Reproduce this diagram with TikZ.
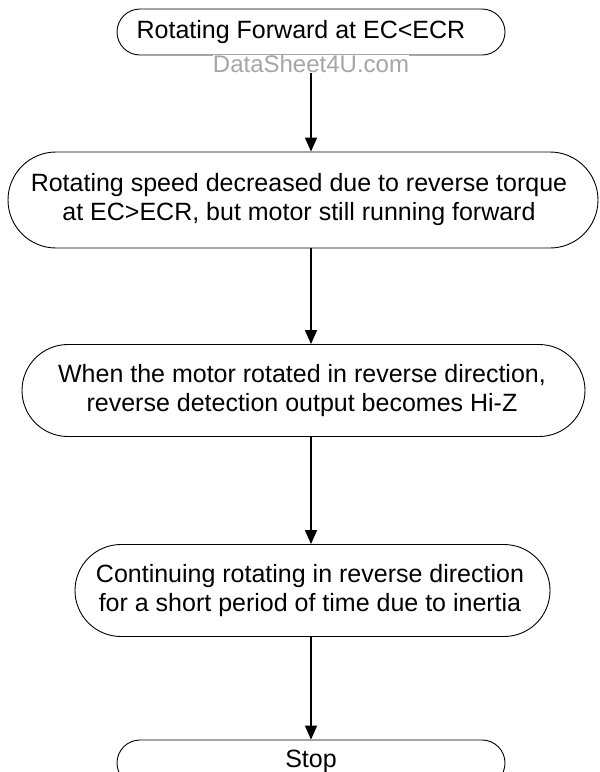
\documentclass[tikz,border=0pt]{standalone}
\usepackage{fontspec}
\setmainfont{Liberation Sans}
\usetikzlibrary{shapes.misc,arrows.meta}
\begin{document}
\begin{tikzpicture}[x=1pt,y=-1pt,
  flowbox/.style={draw=black,line width=0.9pt,rounded rectangle,rounded rectangle arc length=180,
    inner sep=0pt},
  flowtext/.style={inner sep=0pt,align=center,font=\fontsize{25}{29}\selectfont},
  flowarrow/.style={line width=1.6pt,-{Triangle[length=14pt,width=12pt]}}]
\useasboundingbox[fill=white] (0,0) rectangle (600,772);
\node[flowbox,minimum width=388pt,minimum height=46pt] (n1) at (311,32) {};
\node[flowtext] (t1) at (301,32) {Rotating Forward at EC<ECR};
\node[flowbox,minimum width=590pt,minimum height=96pt] (n2) at (303,200) {};
\node[flowtext] (t2) at (299,200) {Rotating speed decreased due to reverse torque\\at EC>ECR, but motor still running forward};
\node[flowbox,minimum width=563pt,minimum height=92pt] (n3) at (303.5,390.5) {};
\node[flowtext] (t3) at (302,391) {When the motor rotated in reverse direction,\\reverse detection output becomes Hi-Z};
\node[flowbox,minimum width=475pt,minimum height=92pt] (n4) at (312.5,590.5) {};
\node[flowtext] (t4) at (310,591) {Continuing rotating in reverse direction\\for a short period of time due to inertia};
\node[flowbox,minimum width=388pt,minimum height=46pt] (n5) at (311,763) {};
\node[flowtext] (t5) at (311,761) {Stop};
\draw[flowarrow] (n1.south -| 311,0) -- (n2.north -| 311,0);
\draw[flowarrow] (n2.south -| 311,0) -- (n3.north -| 311,0);
\draw[flowarrow] (n3.south -| 311,0) -- (n4.north -| 311,0);
\draw[flowarrow] (n4.south -| 311,0) -- (n5.north -| 311,0);
\node[fill=white,inner sep=0pt,text=black!35,font=\fontsize{24}{24}\selectfont] (wm) at (311,64) {DataSheet4U.com};
\end{tikzpicture}
\end{document}
